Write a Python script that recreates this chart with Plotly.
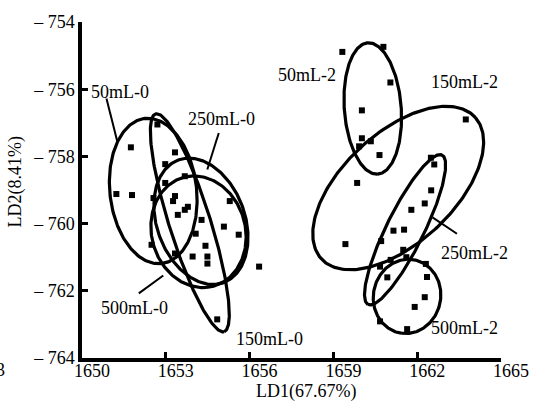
import numpy as np
import plotly.graph_objects as go

# ---------------- data ----------------
# left cluster (0 h) points: LD1, LD2
left_x = [1652.70, 1651.75, 1653.33, 1652.98, 1653.68, 1652.98, 1651.23, 1651.79, 1652.56,
          1653.33, 1653.26, 1653.79, 1653.68, 1653.43, 1654.28, 1655.29, 1655.08, 1654.07,
          1655.61, 1652.49, 1654.42, 1653.33, 1653.96, 1654.49, 1654.49, 1656.34, 1654.84]
left_y = [-757.05, -757.73, -757.88, -758.23, -758.59, -758.79, -759.12, -759.15, -759.24,
          -759.18, -759.33, -759.50, -759.59, -759.74, -759.89, -759.33, -760.09, -760.30,
          -760.33, -760.63, -760.66, -760.89, -760.98, -760.98, -761.19, -761.28, -762.85]
# right cluster (2 h) points
right_x = [1659.32, 1660.79, 1661.04, 1660.02, 1660.02, 1660.34, 1659.92, 1660.65, 1659.85,
           1663.74, 1662.49, 1662.61, 1662.50, 1662.27, 1661.79, 1659.43, 1661.15, 1661.53,
           1660.71, 1661.50, 1661.05, 1660.67, 1661.61, 1660.93, 1662.31, 1662.35, 1662.27,
           1661.91, 1660.67, 1661.64]
right_y = [-754.89, -754.74, -755.80, -756.63, -757.46, -757.55, -757.70, -757.96, -758.79,
           -756.90, -758.04, -758.24, -759.01, -759.40, -759.59, -760.61, -760.21, -760.18,
           -760.52, -760.78, -761.08, -761.28, -761.00, -761.60, -761.20, -761.59, -762.19,
           -762.48, -762.91, -763.14]

# group ellipses: name, centre (x, y), half-axis vectors u and v (data units)
ell_names = ["50mL-0", "150mL-0", "250mL-0", "500mL-0", "50mL-2", "150mL-2", "250mL-2", "500mL-2"]
ell_cx = [1652.55, 1653.86, 1654.258, 1654.171, 1660.409, 1661.320, 1661.566, 1661.636]
ell_cy = [-759.03, -759.976, -759.932, -760.243, -756.574, -758.941, -760.183, -762.166]
ell_ux = [0.298, 1.227, 0.824, 0.280, 0.175, 2.762, -1.325, -0.210]
ell_uy = [-2.160, -3.240, -1.820, -1.657, -1.953, 2.098, -2.222, -1.095]
ell_vx = [1.542, 0.701, 1.470, 1.682, 1.016, 1.314, 0.596, 1.192]
ell_vy = [0.148, 0.189, 0.473, 0.118, 0.059, -1.231, -0.253, -0.148]

# group labels
lab_text = ["50mL-0", "250mL-0", "500mL-0", "150mL-0", "50mL-2", "150mL-2", "250mL-2", "500mL-2"]
lab_x = [1651.37, 1655.01, 1651.89, 1656.73, 1658.05, 1663.69, 1664.05, 1663.71]
lab_y = [-756.07, -756.90, -762.52, -763.44, -755.58, -755.78, -760.86, -763.12]

# leader lines (x0, y0, x1, y1)
lead_x0 = [1650.876, 1654.896, 1652.033, 1662.547]
lead_y0 = [-756.278, -757.305, -762.077, -759.814]
lead_x1 = [1651.262, 1654.486, 1652.909, 1663.423]
lead_y1 = [-757.550, -758.388, -761.544, -760.302]

x_ticks = [1650, 1653, 1656, 1659, 1662, 1665]
y_ticks = [-754, -756, -758, -760, -762, -764]
y_ticktext = ["\u2013 754", "\u2013 756", "\u2013 758", "\u2013 760", "\u2013 762", "\u2013 764"]

FONT = "Liberation Serif, Times New Roman, serif"

fig = go.Figure()

t = np.linspace(0, 2 * np.pi, 241)
for i in range(len(ell_names)):
    ex = ell_cx[i] + np.cos(t) * ell_ux[i] + np.sin(t) * ell_vx[i]
    ey = ell_cy[i] + np.cos(t) * ell_uy[i] + np.sin(t) * ell_vy[i]
    fig.add_trace(go.Scatter(x=ex, y=ey, mode="lines", line=dict(color="black", width=3.2),
                             hoverinfo="skip", name=ell_names[i]))

for i in range(len(lead_x0)):
    fig.add_trace(go.Scatter(x=[lead_x0[i], lead_x1[i]], y=[lead_y0[i], lead_y1[i]],
                             mode="lines", line=dict(color="black", width=2), hoverinfo="skip"))

fig.add_trace(go.Scatter(x=left_x + right_x, y=left_y + right_y, mode="markers",
                         marker=dict(symbol="square", size=6, color="black")))

for i in range(len(lab_text)):
    fig.add_annotation(x=lab_x[i], y=lab_y[i], text=lab_text[i], showarrow=False,
                       font=dict(family=FONT, size=18, color="black"))

# axis titles
fig.add_annotation(xref="paper", yref="paper", x=(311 - 82) / 428, y=(358 - 392) / 338,
                   text="LD1(67.67%)", showarrow=False, xanchor="center", yanchor="middle",
                   font=dict(family=FONT, size=18, color="black"))
fig.add_annotation(xref="paper", yref="paper", x=(14 - 82) / 428, y=(358 - 181) / 338,
                   text="LD2(8.41%)", showarrow=False, textangle=-90, xanchor="center",
                   yanchor="middle", font=dict(family=FONT, size=18, color="black"))
# cropped fragment at bottom-left
fig.add_annotation(xref="paper", yref="paper", x=(5 - 82) / 428, y=(358 - 370) / 338,
                   text="3", showarrow=False, xanchor="right", yanchor="middle",
                   font=dict(family=FONT, size=18, color="black"))

fig.update_layout(
    width=541, height=401,
    margin=dict(l=82, r=31, t=20, b=43),
    paper_bgcolor="white", plot_bgcolor="white",
    showlegend=False,
    font=dict(family=FONT, size=18, color="black"),
)
fig.update_xaxes(range=[1650, 1665], tickvals=x_ticks, ticks="inside", ticklen=6, tickwidth=3,
                 tickcolor="black", showline=True, linewidth=3.5, linecolor="black",
                 showgrid=False, zeroline=False, ticklabelshift=10, ticklabelstandoff=-6,
                 tickfont=dict(family=FONT, size=18, color="black"))
fig.update_yaxes(range=[-764, -754], tickvals=y_ticks, ticktext=y_ticktext, ticks="inside",
                 ticklen=6, tickwidth=3, tickcolor="black", showline=True, linewidth=3.5,
                 linecolor="black", showgrid=False, zeroline=False,
                 tickfont=dict(family=FONT, size=18, color="black"))

fig.write_html("out.html")
